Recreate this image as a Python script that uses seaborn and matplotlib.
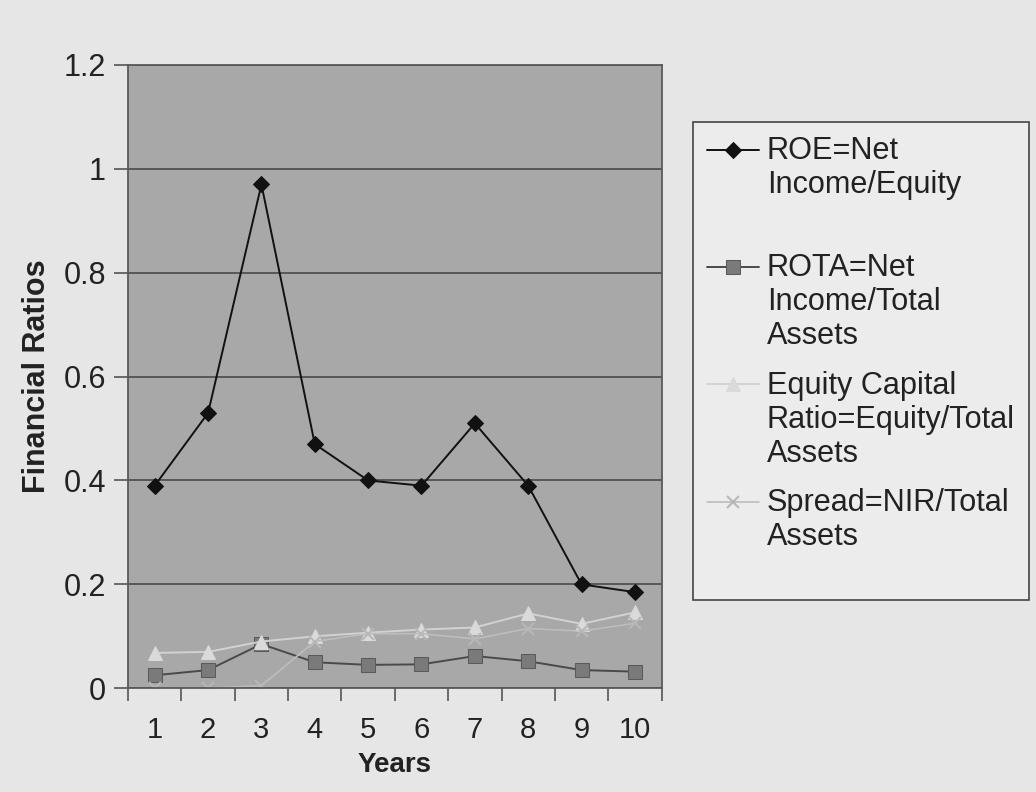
import numpy as np
import pandas as pd
import matplotlib
matplotlib.use("Agg")
import matplotlib.pyplot as plt
import seaborn as sns
from matplotlib.legend_handler import HandlerLine2D
from matplotlib.ticker import FixedLocator

# ---- data ----
years = [1, 2, 3, 4, 5, 6, 7, 8, 9, 10]
roe = [0.39, 0.53, 0.97, 0.47, 0.40, 0.39, 0.51, 0.39, 0.20, 0.185]
rota = [0.025, 0.035, 0.085, 0.05, 0.045, 0.046, 0.062, 0.052, 0.035, 0.032]
equity_ratio = [0.068, 0.07, 0.09, 0.10, 0.107, 0.113, 0.117, 0.144, 0.124, 0.146]
spread = [0.0, 0.0, 0.005, 0.09, 0.105, 0.105, 0.095, 0.115, 0.11, 0.125]

labels = ["ROE=Net\nIncome/Equity\n",
          "ROTA=Net\nIncome/Total\nAssets",
          "Equity Capital\nRatio=Equity/Total\nAssets",
          "Spread=NIR/Total\nAssets\n"]
y_ticks = [0, 0.2, 0.4, 0.6, 0.8, 1.0, 1.2]
y_ticklabels = ["0", "0.2", "0.4", "0.6", "0.8", "1", "1.2"]

sns.set_theme(style="white")
plt.rcParams["font.family"] = ["Liberation Sans", "DejaVu Sans"]

page_bg = "#e6e6e6"
plot_bg = "#a8a8a8"
FS = 22

fig = plt.figure(figsize=(10.36, 7.92), dpi=100, facecolor=page_bg)
ax = fig.add_axes([0.1236, 0.131, 0.515, 0.787])
ax.set_facecolor(plot_bg)

sns.lineplot(x=years, y=roe, ax=ax, color="#111111", marker="D", markersize=8,
             markeredgecolor="#111111", linewidth=1.4, label=labels[0])
sns.lineplot(x=years, y=rota, ax=ax, color="#4a4a4a", marker="s", markersize=10,
             markerfacecolor="#7a7a7a", markeredgecolor="#5a5a5a", linewidth=1.4,
             label=labels[1])
sns.lineplot(x=years, y=equity_ratio, ax=ax, color="#d2d2d2", marker="^", markersize=10,
             markerfacecolor="#dadada", markeredgecolor="#dadada", linewidth=1.4,
             label=labels[2])
sns.lineplot(x=years, y=spread, ax=ax, color="#bdbdbd", marker="x", markersize=9,
             markeredgecolor="#b8b8b8", markeredgewidth=1.5, linewidth=1.2,
             label=labels[3])

ax.set_xlim(0.5, 10.5)
ax.set_ylim(0, 1.2)
ax.set_yticks(y_ticks)
ax.set_yticklabels(y_ticklabels)
ax.yaxis.grid(True, color="#4a4a4a", linewidth=1.2)
ax.xaxis.grid(False)
ax.set_axisbelow(True)

ax.set_xticks(years)
ax.set_xticklabels([str(y) for y in years])
ax.xaxis.set_minor_locator(FixedLocator(np.arange(0.5, 11, 1)))
ax.tick_params(axis="x", which="major", length=0, pad=20, labelsize=FS - 1, colors="#222222")
ax.tick_params(axis="x", which="minor", length=9, width=1.2, direction="out",
               color="#555555", bottom=True)
ax.tick_params(axis="y", which="major", length=10, width=1.2, direction="out",
               color="#555555", left=True, labelsize=FS, labelcolor="#222222", pad=6)

for s in ax.spines.values():
    s.set_color("#5a5a5a")
    s.set_linewidth(1.3)

ax.set_xlabel("Years", fontsize=20, fontweight="bold", color="#222222", labelpad=6)
ax.set_ylabel("Financial Ratios", fontsize=FS, fontweight="bold", color="#222222", labelpad=8)


class TopHandler(HandlerLine2D):
    def __init__(self, nlines, step, **kw):
        super().__init__(**kw)
        self.nlines = nlines
        self.step = step

    def create_artists(self, legend, orig_handle, xdescent, ydescent, width, height,
                       fontsize, trans):
        s = (self.nlines - 1) / 2 * self.step * fontsize
        return super().create_artists(legend, orig_handle, xdescent, ydescent - 2 * s,
                                      width, height, fontsize, trans)


h, l = ax.get_legend_handles_labels()
ax.get_legend().remove()
hmap = {hh: TopHandler(ll.count("\n") + 1, 1.17) for hh, ll in zip(h, l)}
leg = fig.legend(h, l, loc="upper left", bbox_to_anchor=(0.669, 0.846),
                 bbox_transform=fig.transFigure, fontsize=22.1, frameon=True,
                 fancybox=False, edgecolor="#444444", facecolor="#ececec",
                 framealpha=1, handlelength=1.7, handletextpad=0.25,
                 labelspacing=0.64, borderpad=0.45, borderaxespad=0,
                 handler_map=hmap)
leg.get_frame().set_linewidth(1.2)
for t in leg.get_texts():
    t.set_color("#222222")
    t.set_linespacing(1.17)

fig.savefig("out.png", dpi=100, facecolor=page_bg)
